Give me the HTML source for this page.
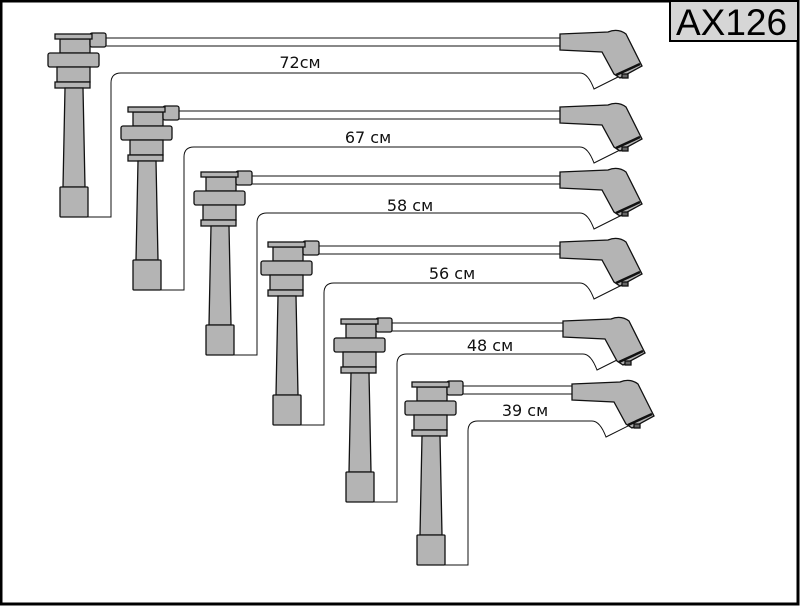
<!DOCTYPE html>
<html><head><style>
body{margin:0;background:#fff}
svg{display:block}
text{font-family:"DejaVu Sans","Liberation Sans",sans-serif}
</style></head><body>
<svg width="800" height="607" viewBox="0 0 800 607" xmlns="http://www.w3.org/2000/svg">
<defs>
<g id="plug" stroke="#111" stroke-width="1.3" fill="#b4b4b4">
<rect x="13" y="5" width="30" height="14"/>
<rect x="43" y="-1" width="16" height="14" rx="2"/>
<rect x="8" y="0" width="37" height="5"/>
<rect x="1" y="19" width="51" height="14" rx="2"/>
<rect x="10" y="33" width="33" height="15"/>
<rect x="8" y="48" width="35" height="6"/>
<polygon points="18,54 36,54 38,153 16,153"/>
<rect x="13" y="153" width="28" height="30" rx="1"/>
</g>
<g id="boot" stroke="#111" stroke-width="1.3" fill="#b4b4b4">
<path d="M0,2 L48,0 Q58,-4 66,2 L80,30 L82,34 L60,46 L54,42 L42,20 L0,18 Z"/>
<path d="M56,43 L80,32" fill="none" stroke-width="2.5"/>
<rect x="62" y="42" width="6" height="4" fill="#666"/>
</g>
</defs>
<rect x="1" y="1" width="797" height="603" fill="none" stroke="#000" stroke-width="3"/>
<rect x="670" y="1" width="128" height="40" fill="#d6d6d6" stroke="#000" stroke-width="2"/>
<text x="676" y="35" font-size="37" fill="#000" style="font-family:'Liberation Sans',sans-serif">AX126</text>
<g fill="none" stroke="#111" stroke-width="1">
<path d="M106,38H560M106,46H560"/>
<path d="M179,111H560M179,119H560"/>
<path d="M252,176H560M252,184H560"/>
<path d="M319,246H560M319,254H560"/>
<path d="M392,323H563M392,331H563"/>
<path d="M463,386H572M463,394H572"/>
<path d="M60,217H111V83Q111,73 121,73H580Q588,73 594,89L628,72"/>
<path d="M133,290H184V157Q184,147 194,147H580Q588,147 594,163L628,146"/>
<path d="M206,355H257V223Q257,213 267,213H580Q588,213 594,229L628,212"/>
<path d="M273,425H324V293Q324,283 334,283H580Q588,283 594,299L628,282"/>
<path d="M346,502H397V364Q397,354 407,354H583Q591,354 597,370L631,353"/>
<path d="M417,565H468V431Q468,421 478,421H592Q600,421 606,437L640,420"/>
</g>
<use href="#plug" x="47" y="34"/>
<use href="#plug" x="120" y="107"/>
<use href="#plug" x="193" y="172"/>
<use href="#plug" x="260" y="242"/>
<use href="#plug" x="333" y="319"/>
<use href="#plug" x="404" y="382"/>
<use href="#boot" x="560" y="32"/>
<use href="#boot" x="560" y="105"/>
<use href="#boot" x="560" y="170"/>
<use href="#boot" x="560" y="240"/>
<use href="#boot" x="563" y="319"/>
<use href="#boot" x="572" y="382"/>
<g font-size="16" fill="#111" text-anchor="middle">
<text x="300" y="68">72см</text>
<text x="368" y="143">67 см</text>
<text x="410" y="211">58 см</text>
<text x="452" y="279">56 см</text>
<text x="490" y="351">48 см</text>
<text x="525" y="416">39 см</text>
</g>
</svg>
</body></html>
